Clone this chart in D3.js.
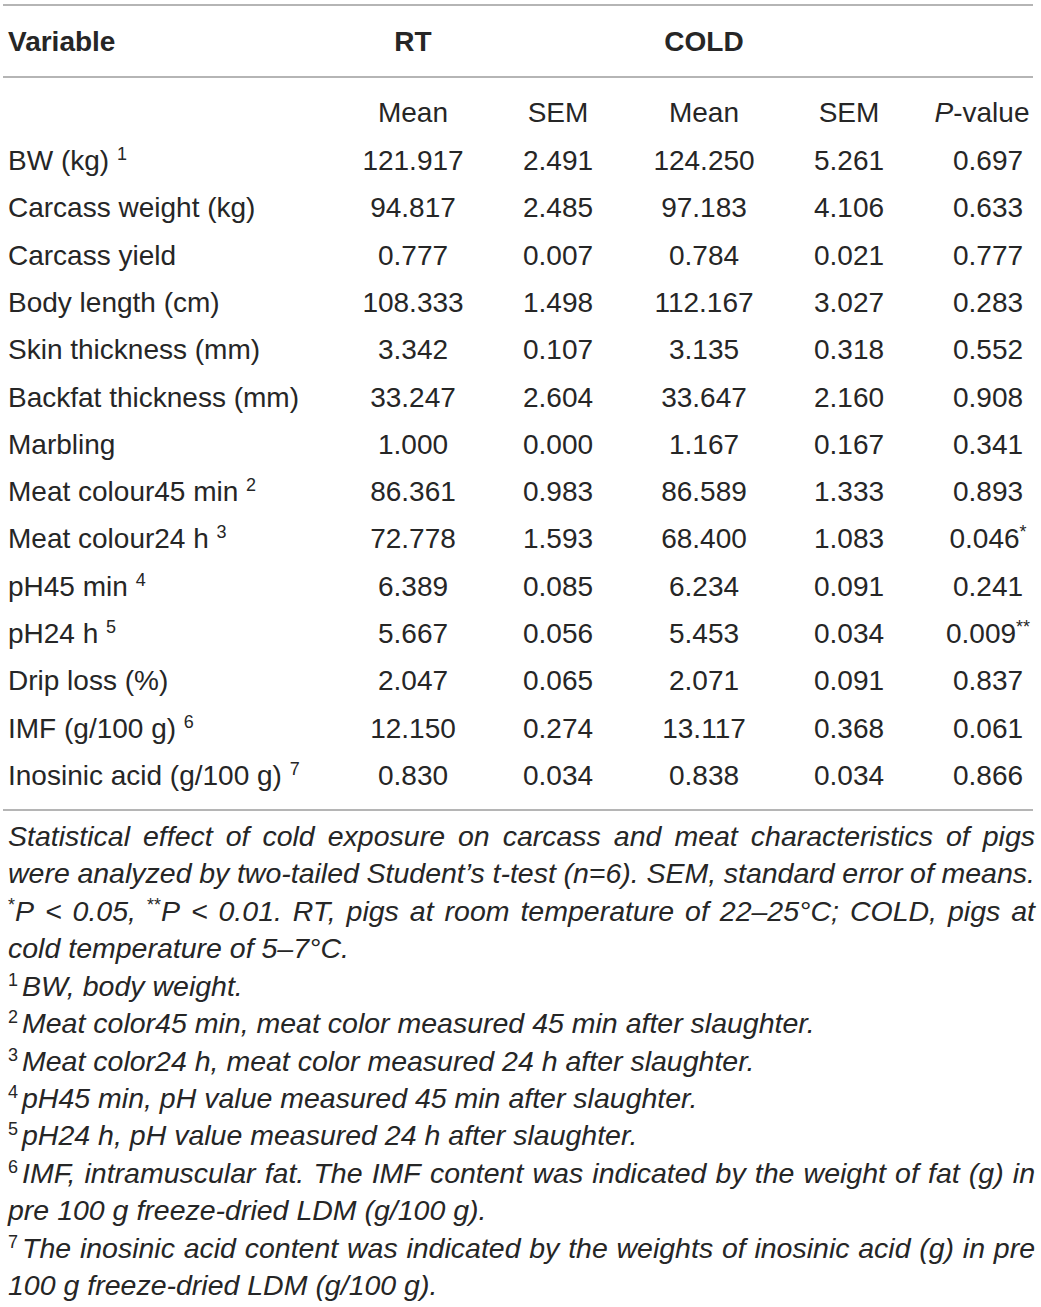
<!DOCTYPE html>
<html>
<head>
<meta charset="utf-8">
<script src="https://cdn.jsdelivr.net/npm/d3@7"></script>
<style>
  body { margin: 0; background: #fff; }
  text { font-family: "Liberation Sans", Arial, sans-serif; fill: #262626; }
</style>
</head>
<body>
<svg width="1041" height="1307"></svg>
<script>
// table contents
var variables = ['BW (kg) ^{1}', 'Carcass weight (kg)', 'Carcass yield', 'Body length (cm)',
  'Skin thickness (mm)', 'Backfat thickness (mm)', 'Marbling', 'Meat colour45 min ^{2}',
  'Meat colour24 h ^{3}', 'pH45 min ^{4}', 'pH24 h ^{5}', 'Drip loss (%)',
  'IMF (g/100 g) ^{6}', 'Inosinic acid (g/100 g) ^{7}'];
var rtMean   = [121.917, 94.817, 0.777, 108.333, 3.342, 33.247, 1.000, 86.361, 72.778, 6.389, 5.667, 2.047, 12.150, 0.830];
var rtSem    = [2.491, 2.485, 0.007, 1.498, 0.107, 2.604, 0.000, 0.983, 1.593, 0.085, 0.056, 0.065, 0.274, 0.034];
var coldMean = [124.250, 97.183, 0.784, 112.167, 3.135, 33.647, 1.167, 86.589, 68.400, 6.234, 5.453, 2.071, 13.117, 0.838];
var coldSem  = [5.261, 4.106, 0.021, 3.027, 0.318, 2.160, 0.167, 1.333, 1.083, 0.091, 0.034, 0.091, 0.368, 0.034];
var pValue   = [0.697, 0.633, 0.777, 0.283, 0.552, 0.908, 0.341, 0.893, 0.046, 0.241, 0.009, 0.837, 0.061, 0.866];

var groups = ['RT', 'COLD'];
var subHeads = ['Mean', 'SEM', 'Mean', 'SEM', '_{P}-value'];

var caption = [
  'Statistical effect of cold exposure on carcass and meat characteristics of pigs',
  'were analyzed by two-tailed Student’s t-test (n=6). SEM, standard error of means.',
  '^{*}P < 0.05, ^{**}P < 0.01. RT, pigs at room temperature of 22–25°C; COLD, pigs at',
  'cold temperature of 5–7°C.'
];
var footnotes = [
  '^{1}BW, body weight.',
  '^{2}Meat color45 min, meat color measured 45 min after slaughter.',
  '^{3}Meat color24 h, meat color measured 24 h after slaughter.',
  '^{4}pH45 min, pH value measured 45 min after slaughter.',
  '^{5}pH24 h, pH value measured 24 h after slaughter.',
  '^{6}IMF, intramuscular fat. The IMF content was indicated by the weight of fat (g) in',
  'pre 100 g freeze-dried LDM (g/100 g).',
  '^{7}The inosinic acid content was indicated by the weights of inosinic acid (g) in pre',
  '100 g freeze-dried LDM (g/100 g).'
];
var justified = [true, true, true, false, false, false, false, false, false, true, false, true, false];

var svg = d3.select('svg'),
    fs = 28, noteFs = 28.5, supFs = 18, left = 8, right = 1035,
    base = 10; // baseline offset from row centre

var fmt = d3.format('.3f');
var stars = function(p){ return p < 0.01 ? '**' : p < 0.05 ? '*' : ''; };

// column centres and row positions
var colX = d3.scaleOrdinal()
      .domain(['rtMean', 'rtSem', 'coldMean', 'coldSem', 'p'])
      .range([413, 558, 704, 849, 988]);
var rowY = d3.scalePoint()
      .domain(d3.range(variables.length))
      .range([160, 775]);

// writes text like 'abc ^{1}' into a text element, ^{} = superscript, _{} = italic
function rich(sel, str){
  var parts = str.split(/(\^\{[^}]*\}|_\{[^}]*\})/).filter(function(s){ return s.length; });
  var raised = false;
  parts.forEach(function(p){
    var t = sel.append('tspan');
    if (p.indexOf('^{') === 0) {
      t.text(p.slice(2, -1)).style('font-size', supFs + 'px').style('font-style', 'normal')
       .attr('dy', raised ? 0 : -10);
      raised = true;
    } else if (p.indexOf('_{') === 0) {
      t.text(p.slice(2, -1)).style('font-style', 'italic').attr('dy', raised ? 10 : 0);
      raised = false;
    } else {
      t.text(p).attr('dy', raised ? 10 : 0);
      raised = false;
    }
  });
  return sel;
}

// rules
var rules = [5, 77, 810];
svg.selectAll('line.rule')
  .data(rules)
  .enter()
  .append('line')
  .attr('class', 'rule')
  .attr('x1', 3).attr('x2', 1033)
  .attr('y1', function(d){ return d; }).attr('y2', function(d){ return d; })
  .attr('stroke', '#9c9c9c')
  .attr('stroke-width', 1.6);

// header
svg.append('text')
  .attr('x', left).attr('y', 41 + base)
  .style('font-size', fs + 'px').style('font-weight', 'bold')
  .text('Variable');

svg.selectAll('text.group')
  .data(groups)
  .enter()
  .append('text')
  .attr('class', 'group')
  .attr('x', function(d, i){ return colX(i === 0 ? 'rtMean' : 'coldMean'); })
  .attr('y', 41 + base)
  .attr('text-anchor', 'middle')
  .style('font-size', fs + 'px').style('font-weight', 'bold')
  .text(function(d){ return d; });

svg.selectAll('text.sub')
  .data(subHeads)
  .enter()
  .append('text')
  .attr('class', 'sub')
  .attr('x', function(d, i){ var k = colX.domain()[i]; return k === 'p' ? 982 : colX(k); })
  .attr('y', 112 + base)
  .attr('text-anchor', 'middle')
  .style('font-size', fs + 'px')
  .each(function(d){ rich(d3.select(this), d); });

// body rows
var rows = svg.selectAll('g.row')
  .data(variables)
  .enter()
  .append('g')
  .attr('class', 'row')
  .attr('transform', function(d, i){ return 'translate(0,' + rowY(i) + ')'; });

rows.append('text')
  .attr('x', left).attr('y', base)
  .style('font-size', fs + 'px')
  .each(function(d){ rich(d3.select(this), d); });

var cols = [['rtMean', rtMean], ['rtSem', rtSem], ['coldMean', coldMean], ['coldSem', coldSem]];
cols.forEach(function(c){
  rows.append('text')
    .attr('x', colX(c[0])).attr('y', base)
    .attr('text-anchor', 'middle')
    .style('font-size', fs + 'px')
    .text(function(d, i){ return fmt(c[1][i]); });
});

rows.append('text')
  .attr('x', colX('p')).attr('y', base)
  .attr('text-anchor', 'middle')
  .style('font-size', fs + 'px')
  .each(function(d, i){
    var s = stars(pValue[i]);
    rich(d3.select(this), fmt(pValue[i]) + (s ? '^{' + s + '}' : ''));
  });

// notes below the table, words spread out on justified lines
var notes = caption.concat(footnotes);
var noteY = d3.scalePoint()
      .domain(d3.range(notes.length))
      .range([836, 1285]);

notes.forEach(function(line, k){
  var g = svg.append('g')
      .attr('transform', 'translate(0,' + noteY(k) + ')');
  var words = line.split(' ');
  var items = words.map(function(wd){
    var t = rich(g.append('text')
      .attr('y', base)
      .style('font-size', noteFs + 'px')
      .style('font-style', 'italic'), wd);
    // footnote numbers sit a little apart from their text
    if (/^\^\{\d\}/.test(wd)) t.select('tspan:nth-child(2)').attr('dx', 4);
    return t;
  });
  var widths = items.map(function(t, i){
    return t.node().getComputedTextLength() + (/^\^\{\d\}/.test(words[i]) ? 4 : 0);
  });
  var gap = justified[k] && words.length > 1
      ? (right - left - d3.sum(widths)) / (words.length - 1)
      : noteFs * 0.278;
  var x = left;
  items.forEach(function(t, i){
    t.attr('x', x);
    x += widths[i] + gap;
  });
});
</script>
</body>
</html>
